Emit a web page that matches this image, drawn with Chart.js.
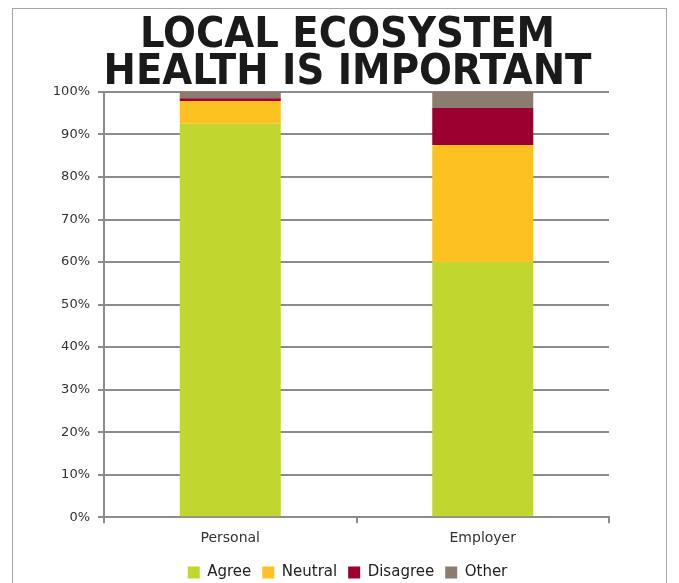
<!DOCTYPE html>
<html>
<head>
<meta charset="utf-8">
<script src="https://cdn.jsdelivr.net/npm/chart.js@4"></script>
<style>
  html, body { margin: 0; padding: 0; background: #fff; }
  #wrap { width: 679px; height: 583px; position: relative; }
</style>
</head>
<body>
<div id="wrap"><canvas id="chart" width="679" height="583"></canvas></div>
<script>
const categories = ['Personal', 'Employer'];
const agree = [92.5, 60.0];
const neutral = [5.4, 27.5];
const disagree = [0.6, 8.7];
const other = [1.5, 3.8];
const seriesNames = ['Agree', 'Neutral', 'Disagree', 'Other'];
const seriesColors = ['#c1d72f', '#fdc122', '#9b0031', '#8c7b6f'];

// frame around the whole chart
const framePlugin = {
    id: 'frame',
    beforeDraw(chart) {
        const ctx = chart.ctx;
        ctx.save();
        ctx.fillStyle = '#fff';
        ctx.fillRect(0, 0, chart.width, chart.height);
        ctx.strokeStyle = '#a6a6a6';
        ctx.lineWidth = 1;
        ctx.strokeRect(12.5, 8.5, 654, 600);
        ctx.restore();
    }
};

const ctx = document.getElementById('chart').getContext('2d');
const allSeries = [agree, neutral, disagree, other];
const myChart = new Chart(ctx, {
    type: 'bar',
    data: {
        labels: categories,
        datasets: allSeries.map((vals, i) => ({
            label: seriesNames[i],
            data: vals,
            backgroundColor: seriesColors[i],
            borderWidth: 0,
            categoryPercentage: 0.8,
            barPercentage: 0.5
        }))
    },
    options: {
        responsive: false,
        animation: false,
        layout: { padding: { left: 16, right: 0, top: 0, bottom: -7 } },
        plugins: {
            title: {
                display: true,
                text: ['LOCAL ECOSYSTEM', 'HEALTH IS IMPORTANT'],
                color: '#1a1a1a',
                font: { family: 'DejaVu Sans Condensed', size: 43, weight: 'bold', lineHeight: 0.86 },
                padding: { top: 17, bottom: 1 }
            },
            legend: {
                position: 'bottom',
                labels: {
                    color: '#222',
                    boxWidth: 12,
                    boxHeight: 12,
                    padding: 11,
                    font: { family: 'DejaVu Sans', size: 15 }
                }
            },
            tooltip: { enabled: false }
        },
        scales: {
            x: {
                stacked: true,
                grid: { offset: true, drawOnChartArea: false, color: '#8c8c8c', lineWidth: 2, tickLength: 6 },
                border: { color: '#8c8c8c', width: 2 },
                ticks: { color: '#333', font: { family: 'DejaVu Sans', size: 14 }, padding: 7 }
            },
            y: {
                stacked: true,
                min: 0,
                max: 100,
                afterFit(scale) { scale.width = 88; },
                grid: { color: '#8c8c8c', lineWidth: 2, tickLength: 6 },
                border: { color: '#8c8c8c', width: 2 },
                ticks: {
                    stepSize: 10,
                    color: '#333',
                    padding: 8,
                    font: { family: 'DejaVu Sans', size: 13 },
                    callback: v => v + '%'
                }
            },
            // empty space on the right of the plot
            yRight: {
                position: 'right',
                afterFit(scale) { scale.width = 70; },
                ticks: { display: false },
                grid: { display: false },
                border: { display: false }
            }
        }
    },
    plugins: [framePlugin]
});
</script>
</body>
</html>
